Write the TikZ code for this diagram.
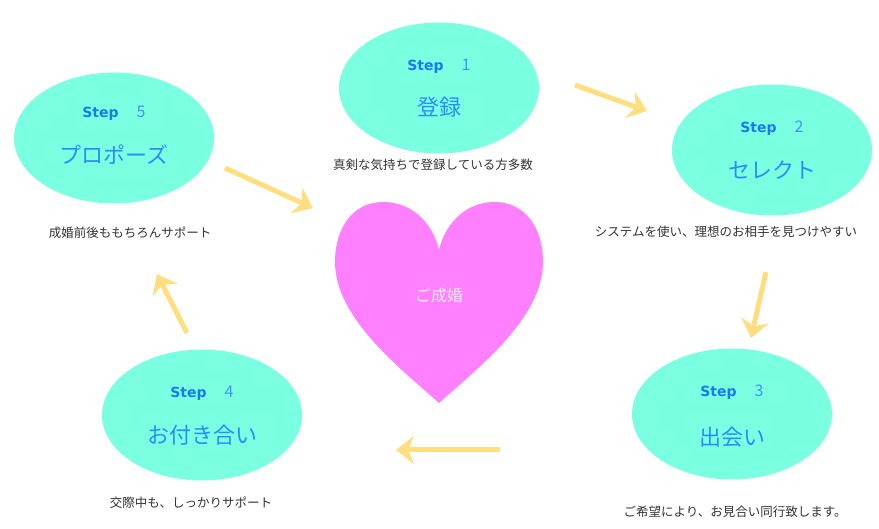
\documentclass[tikz,border=0pt]{standalone}
\usepackage{fontspec}
\setmainfont{Noto Sans CJK JP}
\newfontfamily\stepfont{DejaVu Sans}
\usepackage{tikz}
\usetikzlibrary{shapes,arrows.meta,positioning}

\definecolor{mint}{RGB}{122,255,224}
\definecolor{heartpink}{RGB}{255,128,255}
\definecolor{arrowyellow}{RGB}{255,222,128}
\definecolor{stepblue}{RGB}{22,122,240}
\definecolor{numblue}{RGB}{60,150,240}
\definecolor{titleblue}{RGB}{40,140,250}
\definecolor{capgray}{RGB}{50,50,50}

\begin{document}
\begin{tikzpicture}[
  x=1pt,
  y=-1pt,
  node distance=22pt
]

  \tikzstyle{stepnode}=[draw=none,ellipse,fill=mint,minimum width=200pt,minimum height=131pt,inner sep=0pt]
  \tikzstyle{steplab}=[font=\fontsize{16}{16}\selectfont,text=stepblue,inner sep=0pt]
  \tikzstyle{titlelab}=[font=\fontsize{22}{22}\selectfont,text=titleblue,inner sep=0pt]
  \tikzstyle{caplab}=[font=\fontsize{12.5}{12.5}\selectfont,text=capgray,inner sep=0pt]
  \tikzstyle{heartlab}=[font=\fontsize{16}{16}\selectfont,text=white!85!heartpink,inner sep=0pt]

  \tikzstyle{pointer}=[draw=arrowyellow,line width=5pt,-{Stealth[length=18pt,width=28pt,inset=6pt]}]

  \newcommand{\stepno}[1]{{\stepfont\bfseries\fontsize{14}{14}\selectfont Step}\hspace{18pt}{\color{numblue}#1}}

  \useasboundingbox (0,0) rectangle (879,529);

  % heart
  \fill[heartpink] (439,250)
    .. controls (444,228) and (462,202) .. (495,202)
    .. controls (525,202) and (543,228) .. (543,262)
    .. controls (543,318) and (478,368) .. (439,403)
    .. controls (400,368) and (335,318) .. (335,262)
    .. controls (335,228) and (353,202) .. (383,202)
    .. controls (416,202) and (434,228) .. (439,250) -- cycle;
  \node[heartlab] (heart) at (439,295) {ご成婚};

  % nodes
  \node[stepnode] (e1) at (439,88) {};
  \node[steplab] (s1) [above of=e1] {\stepno{1}};
  \node[titlelab] (t1) [below of=e1,node distance=19pt] {登録};
  \node[caplab] (c1) at (433,165) {真剣な気持ちで登録している方多数};

  \node[stepnode] (e2) at (772,150) {};
  \node[steplab] (s2) [above of=e2] {\stepno{2}};
  \node[titlelab] (t2) [below of=e2,node distance=20pt] {セレクト};
  \node[caplab] (c2) at (726,232) {システムを使い、理想のお相手を見つけやすい};

  \node[stepnode] (e3) at (732,414) {};
  \node[steplab] (s3) [above of=e3] {\stepno{3}};
  \node[titlelab] (t3) [below of=e3,node distance=23pt] {出会い};
  \node[caplab] (c3) at (735,512) {ご希望により、お見合い同行致します。};

  \node[stepnode] (e4) at (202,415) {};
  \node[steplab] (s4) [above of=e4] {\stepno{4}};
  \node[titlelab] (t4) [below of=e4,node distance=20pt] {お付き合い};
  \node[caplab] (c4) at (191,503) {交際中も、しっかりサポート};

  \node[stepnode] (e5) at (114,138) {};
  \node[steplab] (s5) [above of=e5,node distance=25pt] {\stepno{5}};
  \node[titlelab] (t5) [below of=e5,node distance=17pt] {プロポーズ};
  \node[caplab] (c5) at (130,233) {成婚前後ももちろんサポート};

  % arrow ends
  \coordinate (p12a) at (575,85);
  \coordinate (p12b) at (647,111);
  \coordinate (p23a) at (766,272);
  \coordinate (p23b) at (751,338);
  \coordinate (p34a) at (500,450);
  \coordinate (p34b) at (396,450);
  \coordinate (p45a) at (187,333);
  \coordinate (p45b) at (157,274);
  \coordinate (p5ha) at (225,168);
  \coordinate (p5hb) at (313,208);

  % pointers
  \draw[pointer] (p12a) -- (p12b);
  \draw[pointer] (p23a) -- (p23b);
  \draw[pointer] (p34a) -- (p34b);
  \draw[pointer] (p45a) -- (p45b);
  \draw[pointer] (p5ha) -- (p5hb);

\end{tikzpicture}
\end{document}
